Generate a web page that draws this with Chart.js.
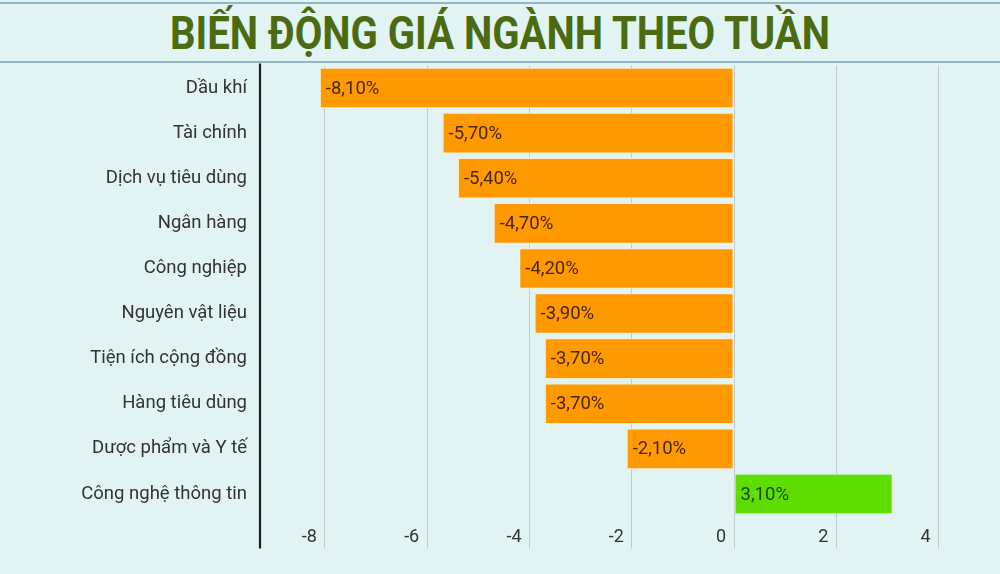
<!DOCTYPE html>
<html>
<head>
<meta charset="utf-8">
<script src="https://cdn.jsdelivr.net/npm/chart.js@4/dist/chart.umd.min.js"></script>
<style>
  html, body { margin:0; padding:0; background:#e1f3f2; width:1000px; height:574px; overflow:hidden; }
  #wrap { position:absolute; left:0; top:0; width:1000px; height:574px; }
  #title { position:absolute; left:0; top:2px; width:1000px; height:57px;
           border-top:2px solid #93b6c6; border-bottom:2px solid #93b6c6;
           display:flex; align-items:center; justify-content:center; }
  #title span { font-family: Roboto, "Liberation Sans", sans-serif; font-weight:700; font-size:46px;
                color:#4c6a10; white-space:nowrap; display:inline-block; transform-origin:center; }
  #chartBox { position:absolute; left:0; top:0; width:1000px; height:574px; }
</style>
</head>
<body>
<div id="wrap">
  <div id="title"><span id="titleText">BIẾN ĐỘNG GIÁ NGÀNH THEO TUẦN</span></div>
  <div id="chartBox"><canvas id="c"></canvas></div>
</div>
<script>
const categories = ["Dầu khí","Tài chính","Dịch vụ tiêu dùng","Ngân hàng","Công nghiệp","Nguyên vật liệu","Tiện ích cộng đồng","Hàng tiêu dùng","Dược phẩm và Y tế","Công nghệ thông tin"];
const values = [-8.1,-5.7,-5.4,-4.7,-4.2,-3.9,-3.7,-3.7,-2.1,3.1];
const xTicks = [-8,-6,-4,-2,0,2,4];

// fit title width
(function(){
  const el = document.getElementById('titleText');
  const w = el.getBoundingClientRect().width;
  el.style.transform = 'scaleX(' + (660 / w) + ')';
})();

const fmt = v => v.toFixed(2).replace('.', ',') + '%';

const labelPlugin = {
  id: 'barLabels',
  afterDatasetsDraw(chart) {
    const ctx = chart.ctx;
    const meta = chart.getDatasetMeta(0);
    ctx.save();
    ctx.font = '18.5px Roboto, "Liberation Sans", sans-serif';
    ctx.textBaseline = 'middle';
    ctx.textAlign = 'left';
    meta.data.forEach((bar, i) => {
      const left = Math.min(bar.x, bar.base);
      ctx.fillStyle = values[i] < 0 ? '#4a2600' : '#1d4a00';
      ctx.fillText(fmt(values[i]), left + 6, bar.y + 1);
    });
    ctx.restore();
  }
};

const axisLinePlugin = {
  id: 'axisLine',
  afterDraw(chart) {
    const ctx = chart.ctx, a = chart.chartArea;
    ctx.save();
    ctx.strokeStyle = '#1e1e1e';
    ctx.lineWidth = 2.2;
    ctx.beginPath();
    ctx.moveTo(a.left, a.top - 2);
    ctx.lineTo(a.left, a.bottom + 32);
    ctx.stroke();
    ctx.restore();
  }
};

new Chart(document.getElementById('c'), {
  type: 'bar',
  data: {
    labels: categories,
    datasets: [{
      data: values,
      backgroundColor: values.map(v => v < 0 ? '#ff9900' : '#5ddd00'),
      borderColor: values.map(v => v < 0 ? 'rgba(255,236,190,0.9)' : 'rgba(210,245,190,0.9)'),
      borderWidth: 1,
      borderSkipped: false,
      barPercentage: 0.9,
      categoryPercentage: 1.0
    }]
  },
  options: {
    indexAxis: 'y',
    responsive: true,
    maintainAspectRatio: false,
    animation: false,
    devicePixelRatio: 1,
    layout: { padding: { top: 65.5, left: 0, right: 0, bottom: 0 } },
    plugins: { legend: { display: false }, tooltip: { enabled: false }, title: { display: false } },
    scales: {
      x: {
        type: 'linear',
        min: -9.27,
        max: 5.2,
        afterBuildTicks: s => { s.ticks = xTicks.map(v => ({ value: v })); },
        afterFit: s => { s.height = 57.5; },
        grid: { color: '#c3cdcd', lineWidth: 1, drawTicks: true, tickLength: 32, tickColor: '#c3cdcd' },
        border: { display: false },
        ticks: {
          align: 'end',
          labelOffset: -8,
          padding: -22,
          color: '#333',
          font: { family: 'Roboto, "Liberation Sans", sans-serif', size: 18 },
          callback: v => String(v)
        }
      },
      y: {
        afterFit: s => { s.width = 260; },
        grid: { display: false, drawTicks: false },
        border: { display: false },
        ticks: {
          padding: 13,
          color: '#333',
          font: { family: 'Roboto, "Liberation Sans", sans-serif', size: 18.5 }
        }
      }
    }
  },
  plugins: [labelPlugin, axisLinePlugin]
});
</script>
</body>
</html>
